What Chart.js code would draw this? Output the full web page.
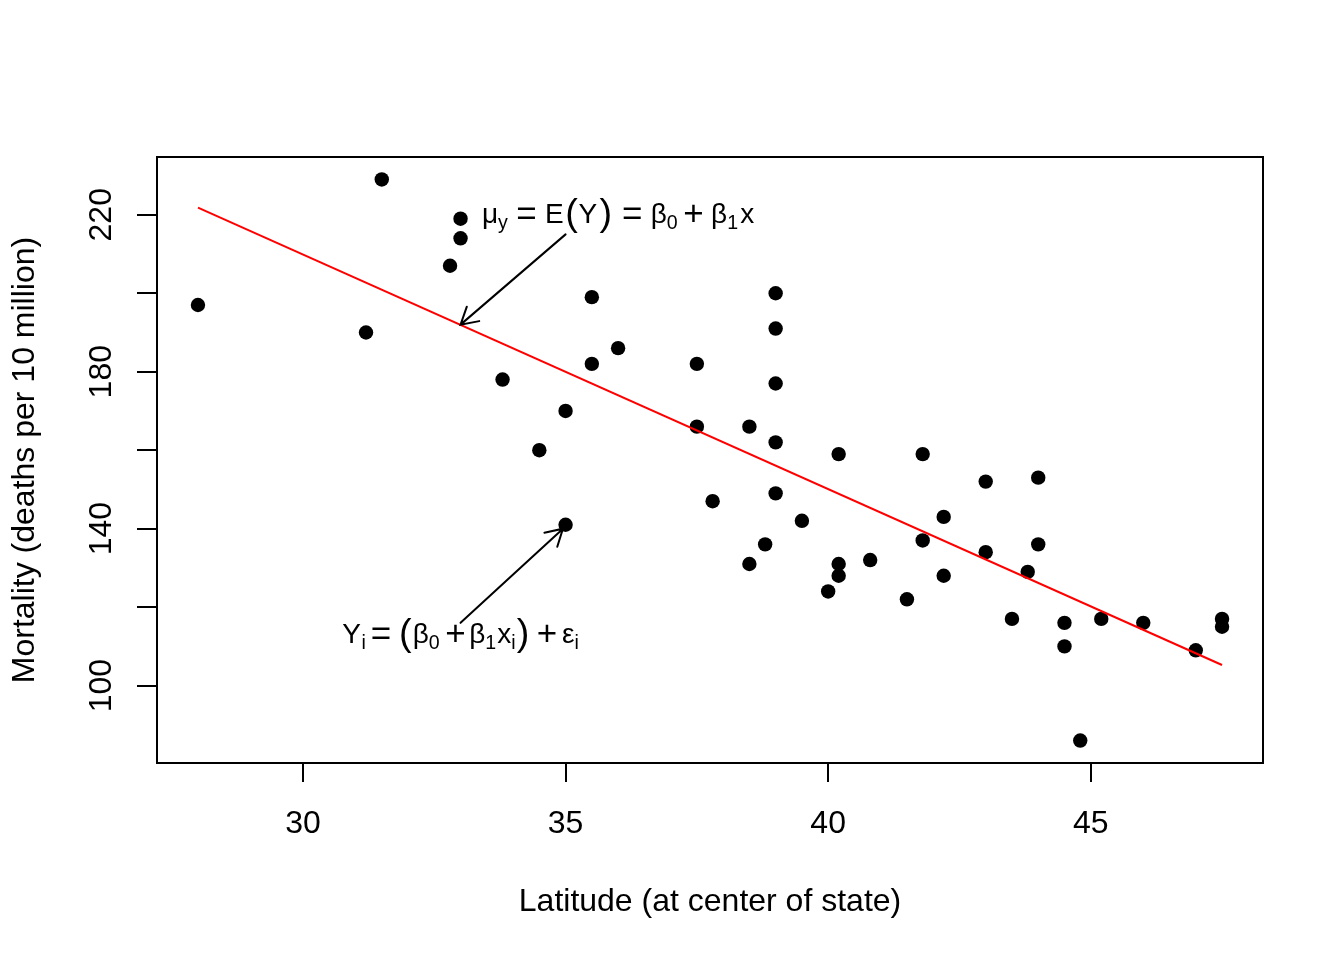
<!DOCTYPE html>
<html>
<head>
<meta charset="utf-8">
<script src="https://cdn.jsdelivr.net/npm/chart.js@4.4.1/dist/chart.umd.min.js"></script>
<style>
  html, body { margin: 0; padding: 0; background: #fff; }
  canvas { display: block; }
</style>
</head>
<body>
<canvas id="chart" width="1344" height="960"></canvas>
<script>
// skin cancer mortality against latitude, one point per state
const latitude = [33.0, 34.5, 35.0, 37.5, 39.0, 41.8, 39.0, 39.0, 28.0, 33.0,
  44.5, 40.0, 40.2, 42.2, 38.5, 37.8, 31.2, 45.2, 39.0, 42.2,
  43.5, 46.0, 32.8, 38.5, 47.0, 41.5, 39.0, 43.8, 40.2, 35.0,
  43.0, 35.5, 47.5, 40.2, 35.5, 44.0, 40.8, 41.8, 33.8, 44.8,
  36.0, 31.5, 39.5, 44.0, 37.5, 47.5, 38.8, 44.5, 43.0]
const mortality = [219, 160, 170, 182, 149, 159, 200, 177, 197, 214,
  116, 124, 128, 128, 166, 147, 190, 117, 162, 143,
  117, 116, 207, 131, 109, 122, 191, 129, 159, 141,
  152, 199, 115, 131, 182, 136, 132, 137, 178, 86,
  186, 229, 142, 153, 166, 117, 136, 110, 134]

const xTicks = [30, 35, 40, 45]
const yTicks = [100, 120, 140, 160, 180, 200, 220]
const yLabelled = [100, 140, 180, 220]

const xTitle = 'Latitude (at center of state)'
const yTitle = 'Mortality (deaths per 10 million)'

// annotations (data units)
const noteAt = [[36, 220], [33, 113]]
const arrowFrom = [[35, 215], [33, 116]]
const arrowTo = [[33, 192], [34.95, 140]]

// formula pieces: k = size factor, dy = baseline shift (em), gap = space before (em)
const note1 = [
  { t: 'μ' }, { t: 'y', k: 0.7, dy: 0.22 },
  { t: '=', k: 1.25, dy: 0.08, gap: 0.3 },
  { t: 'E', gap: 0.3 }, { t: '(', k: 1.35, dy: 0.07, gap: 0.05 }, { t: 'Y', gap: 0.03 },
  { t: ')', k: 1.35, dy: 0.07, gap: 0.08 },
  { t: '=', k: 1.25, dy: 0.08, gap: 0.35 },
  { t: 'β', gap: 0.3 }, { t: '0', k: 0.7, dy: 0.22 },
  { t: '+', k: 1.25, dy: 0.08, gap: 0.2 },
  { t: 'β', gap: 0.26 }, { t: '1', k: 0.7, dy: 0.22 }, { t: 'x', gap: 0.08 }
]
const note2 = [
  { t: 'Y' }, { t: 'i', k: 0.7, dy: 0.22, gap: 0.02 },
  { t: '=', k: 1.25, dy: 0.08, gap: 0.18 },
  { t: '(', k: 1.35, dy: 0.07, gap: 0.28 }, { t: 'β', gap: 0.04 }, { t: '0', k: 0.7, dy: 0.22 },
  { t: '+', k: 1.25, dy: 0.08, gap: 0.2 },
  { t: 'β', gap: 0.12 }, { t: '1', k: 0.7, dy: 0.22 }, { t: 'x', gap: 0.04 }, { t: 'i', k: 0.7, dy: 0.22 },
  { t: ')', k: 1.35, dy: 0.07, gap: 0.04 },
  { t: '+', k: 1.25, dy: 0.08, gap: 0.26 },
  { t: 'ε', gap: 0.18 }, { t: 'i', k: 0.7, dy: 0.22 }
]

const FONT = '"Liberation Sans", Arial, Helvetica, sans-serif'
Chart.defaults.font.family = FONT
Chart.defaults.color = '#000'

// least squares line
const n = latitude.length
const mx = latitude.reduce((a, b) => a + b, 0) / n
const my = mortality.reduce((a, b) => a + b, 0) / n
let sxy = 0, sxx = 0
for (let i = 0; i < n; i++) {
  sxy += (latitude[i] - mx) * (mortality[i] - my)
  sxx += (latitude[i] - mx) ** 2
}
const b1 = sxy / sxx
const b0 = my - b1 * mx
const xLo = Math.min(...latitude), xHi = Math.max(...latitude)
const fitLine = [{ x: xLo, y: b0 + b1 * xLo }, { x: xHi, y: b0 + b1 * xHi }]

// R style 4% range padding
function padRange(v) {
  const lo = Math.min(...v), hi = Math.max(...v), d = (hi - lo) * 0.04
  return [lo - d, hi + d]
}
const [xMin, xMax] = padRange(latitude)
const [yMin, yMax] = padRange(mortality)

function drawMath(ctx, tokens, cx, cy, size) {
  const items = tokens.map(tk => {
    const s = size * (tk.k || 1)
    ctx.font = s + 'px ' + FONT
    return { tk, s, w: ctx.measureText(tk.t).width }
  })
  let total = 0
  items.forEach(it => { total += (it.tk.gap || 0) * size + it.w })
  let x = cx - total / 2
  const base = cy + size * 0.3
  ctx.textAlign = 'left'
  ctx.textBaseline = 'alphabetic'
  ctx.fillStyle = '#000'
  items.forEach(it => {
    x += (it.tk.gap || 0) * size
    ctx.font = it.s + 'px ' + FONT
    ctx.fillText(it.tk.t, x, base + (it.tk.dy || 0) * size)
    x += it.w
  })
}

function drawArrow(ctx, x0, y0, x1, y1) {
  const ang = Math.atan2(y1 - y0, x1 - x0)
  const L = 19, a = Math.PI / 6
  ctx.beginPath()
  ctx.moveTo(x0, y0)
  ctx.lineTo(x1, y1)
  ctx.moveTo(x1 - L * Math.cos(ang - a), y1 - L * Math.sin(ang - a))
  ctx.lineTo(x1, y1)
  ctx.lineTo(x1 - L * Math.cos(ang + a), y1 - L * Math.sin(ang + a))
  ctx.stroke()
}

const notes = {
  id: 'notes',
  afterDatasetsDraw(chart) {
    const { ctx, scales: { x, y } } = chart
    ctx.save()
    ctx.strokeStyle = '#000'
    ctx.lineWidth = 2
    ctx.lineCap = 'round'
    for (let i = 0; i < arrowFrom.length; i++) {
      drawArrow(ctx,
        x.getPixelForValue(arrowFrom[i][0]), y.getPixelForValue(arrowFrom[i][1]),
        x.getPixelForValue(arrowTo[i][0]), y.getPixelForValue(arrowTo[i][1]))
    }
    ;[note1, note2].forEach((tokens, i) => {
      drawMath(ctx, tokens, x.getPixelForValue(noteAt[i][0]), y.getPixelForValue(noteAt[i][1]), 28)
    })
    ctx.restore()
  }
}

const frame = {
  id: 'frame',
  afterDraw(chart) {
    const { ctx, chartArea: a } = chart
    ctx.save()
    ctx.strokeStyle = '#000'
    ctx.lineWidth = 2
    ctx.strokeRect(a.left, a.top, a.right - a.left, a.bottom - a.top)
    ctx.restore()
  }
}

const tickGrid = (len) => ({
  drawOnChartArea: false, drawTicks: true, tickLength: len, color: '#000', lineWidth: 2
})

new Chart(document.getElementById('chart').getContext('2d'), {
  type: 'scatter',
  data: {
    datasets: [
      {
        label: 'fit',
        type: 'line',
        data: fitLine,
        borderColor: '#ff0000',
        borderWidth: 2,
        pointRadius: 0,
        fill: false,
        order: 0
      },
      {
        label: 'states',
        data: latitude.map((v, i) => ({ x: v, y: mortality[i] })),
        backgroundColor: '#000',
        borderWidth: 0,
        pointRadius: 7.2,
        order: 1
      }
    ]
  },
  options: {
    responsive: false,
    devicePixelRatio: 1,
    animation: false,
    layout: { padding: { top: 157, right: 81, left: 0, bottom: 0 } },
    plugins: { legend: { display: false }, tooltip: { enabled: false } },
    scales: {
      x: {
        type: 'linear',
        position: 'bottom',
        min: xMin,
        max: xMax,
        afterBuildTicks: s => { s.ticks = xTicks.map(v => ({ value: v })) },
        afterFit: s => { s.height = 197 },
        grid: tickGrid(19),
        border: { display: false },
        ticks: { autoSkip: false, maxRotation: 0, padding: 23, color: '#000', font: { size: 32 }, callback: v => String(v) },
        title: { display: true, text: xTitle, color: '#000', font: { size: 32 }, padding: { top: 0, bottom: 39 } }
      },
      y: {
        type: 'linear',
        min: yMin,
        max: yMax,
        afterBuildTicks: s => { s.ticks = yTicks.map(v => ({ value: v })) },
        afterFit: s => { s.width = 157 },
        grid: tickGrid(20),
        border: { display: false },
        ticks: {
          autoSkip: false, minRotation: 90, maxRotation: 90, crossAlign: 'center', padding: 8,
          color: '#000', font: { size: 32 },
          callback: v => yLabelled.includes(v) ? String(v) : ''
        },
        title: { display: true, text: yTitle, color: '#000', font: { size: 32 }, padding: { top: 6, bottom: 0 } }
      }
    }
  },
  plugins: [notes, frame]
})
</script>
</body>
</html>
